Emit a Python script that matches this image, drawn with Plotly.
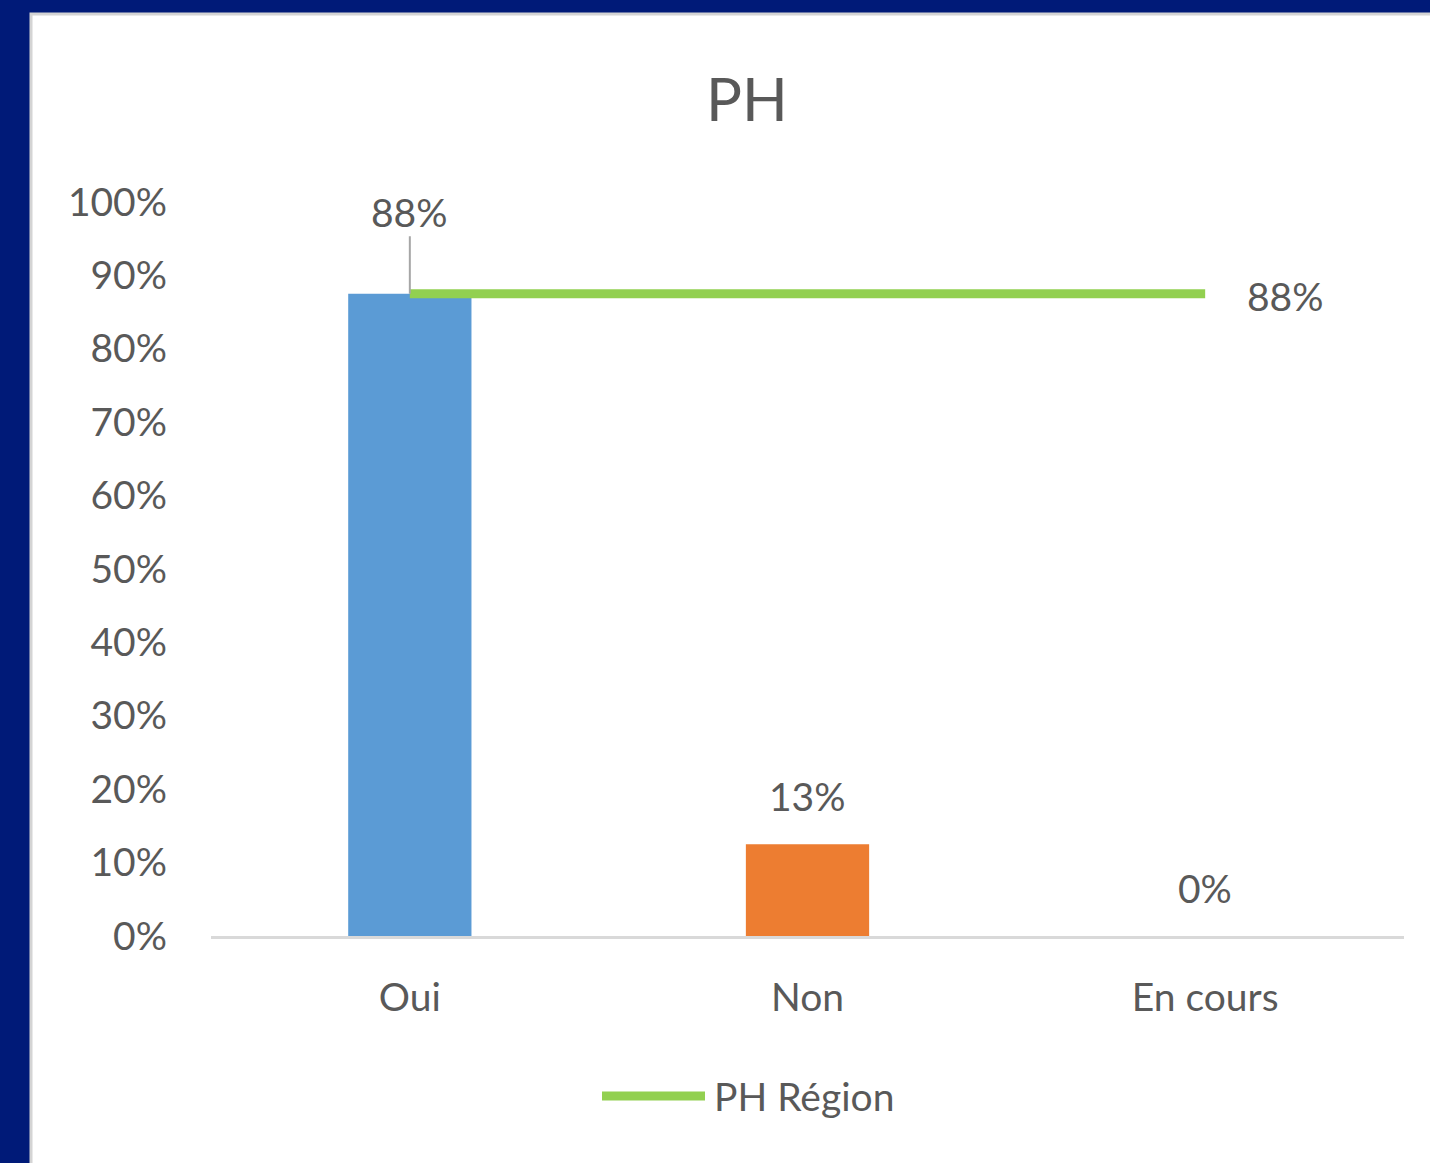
import plotly.graph_objects as go

categories = ["Oui", "Non", "En cours"]
ph_values = [0.875, 0.125, 0.0]
region_value = 0.875
bar_colors = ["#5b9bd5", "#ed7d31", "#a5a5a5"]
y_ticks = [i / 10 for i in range(11)]
title_text = "PH"
legend_label = "PH Région"

TEXT = "#595959"
FONT = "Lato"
NAVY = "#001a78"
FS = 39
W, H = 1430, 1163
L, R, T, B = 211, 26, 202, 227
pw, ph = W - L - R, H - T - B


def px_x(x):
    return (x - L) / pw


def px_y(y):
    return (H - B - y) / ph


fig = go.Figure()
fig.add_trace(go.Bar(
    x=categories, y=ph_values, width=0.31,
    marker=dict(color=bar_colors, line=dict(width=0)),
    showlegend=False, hoverinfo="skip",
))
region_x = [categories[0], categories[-1]]
fig.add_trace(go.Scatter(
    x=region_x, y=[region_value] * len(region_x), mode="lines",
    line=dict(color="#92d050", width=9), name=legend_label,
    showlegend=False, hoverinfo="skip",
))

annotations = []
for i, (c, v) in enumerate(zip(categories, ph_values)):
    lbl = f"{round(v * 100 + 1e-9):.0f}%"
    if i == 0:
        annotations.append(dict(
            x=c, y=v, text=lbl, showarrow=True, arrowhead=0, arrowwidth=2,
            arrowcolor="#a6a6a6", ax=0, ay=-82, standoff=0,
            font=dict(family=FONT, size=FS, color=TEXT),
        ))
    else:
        annotations.append(dict(
            x=c, y=v, text=lbl, showarrow=False, yshift=48,
            yanchor="middle", xanchor="center",
            font=dict(family=FONT, size=FS, color=TEXT),
        ))
annotations.append(dict(
    x=categories[-1], y=region_value, text=f"{round(region_value * 100 + 1e-9):.0f}%",
    showarrow=False, xanchor="left", yanchor="middle", xshift=40, yshift=-2,
    font=dict(family=FONT, size=FS, color=TEXT),
))
# legend text
annotations.append(dict(
    xref="paper", yref="paper", x=px_x(712), y=px_y(1096), text=legend_label,
    showarrow=False, xanchor="left", yanchor="middle",
    font=dict(family=FONT, size=FS, color=TEXT),
))

shapes = [
    dict(type="rect", xref="paper", yref="paper", layer="below",
         x0=px_x(31), x1=px_x(1500), y0=px_y(1300), y1=px_y(14),
         fillcolor="white", line=dict(color="#d4d4d4", width=3)),
    dict(type="line", xref="paper", yref="paper",
         x0=px_x(602), x1=px_x(705), y0=px_y(1096), y1=px_y(1096),
         line=dict(color="#92d050", width=9)),
]

fig.update_layout(
    width=W, height=H,
    margin=dict(l=L, r=R, t=T, b=B, pad=0),
    paper_bgcolor=NAVY, plot_bgcolor="rgba(0,0,0,0)",
    title=dict(text=title_text, x=747 / W, xanchor="center", y=1 - 100 / H,
               yanchor="middle", yref="container",
               font=dict(family=FONT, size=60, color=TEXT)),
    font=dict(family=FONT, size=FS, color=TEXT),
    showlegend=False,
    annotations=annotations, shapes=shapes,
    xaxis=dict(range=[-0.5, 2.5], showgrid=False, zeroline=False,
               showline=True, linecolor="#d9d9d9", linewidth=3,
               ticks="", ticklabelstandoff=25,
               tickfont=dict(family=FONT, size=FS, color=TEXT),
               fixedrange=True),
    yaxis=dict(range=[0, 1], tickvals=y_ticks, tickformat=".0%",
               showgrid=False, zeroline=False, showline=False,
               ticks="", ticklabelstandoff=43,
               tickfont=dict(family=FONT, size=FS, color=TEXT),
               fixedrange=True),
)

fig.write_html(
    "out.html",
    config={"displayModeBar": False},
    post_script="document.body.style.margin='0';document.body.style.overflow='hidden';",
)
